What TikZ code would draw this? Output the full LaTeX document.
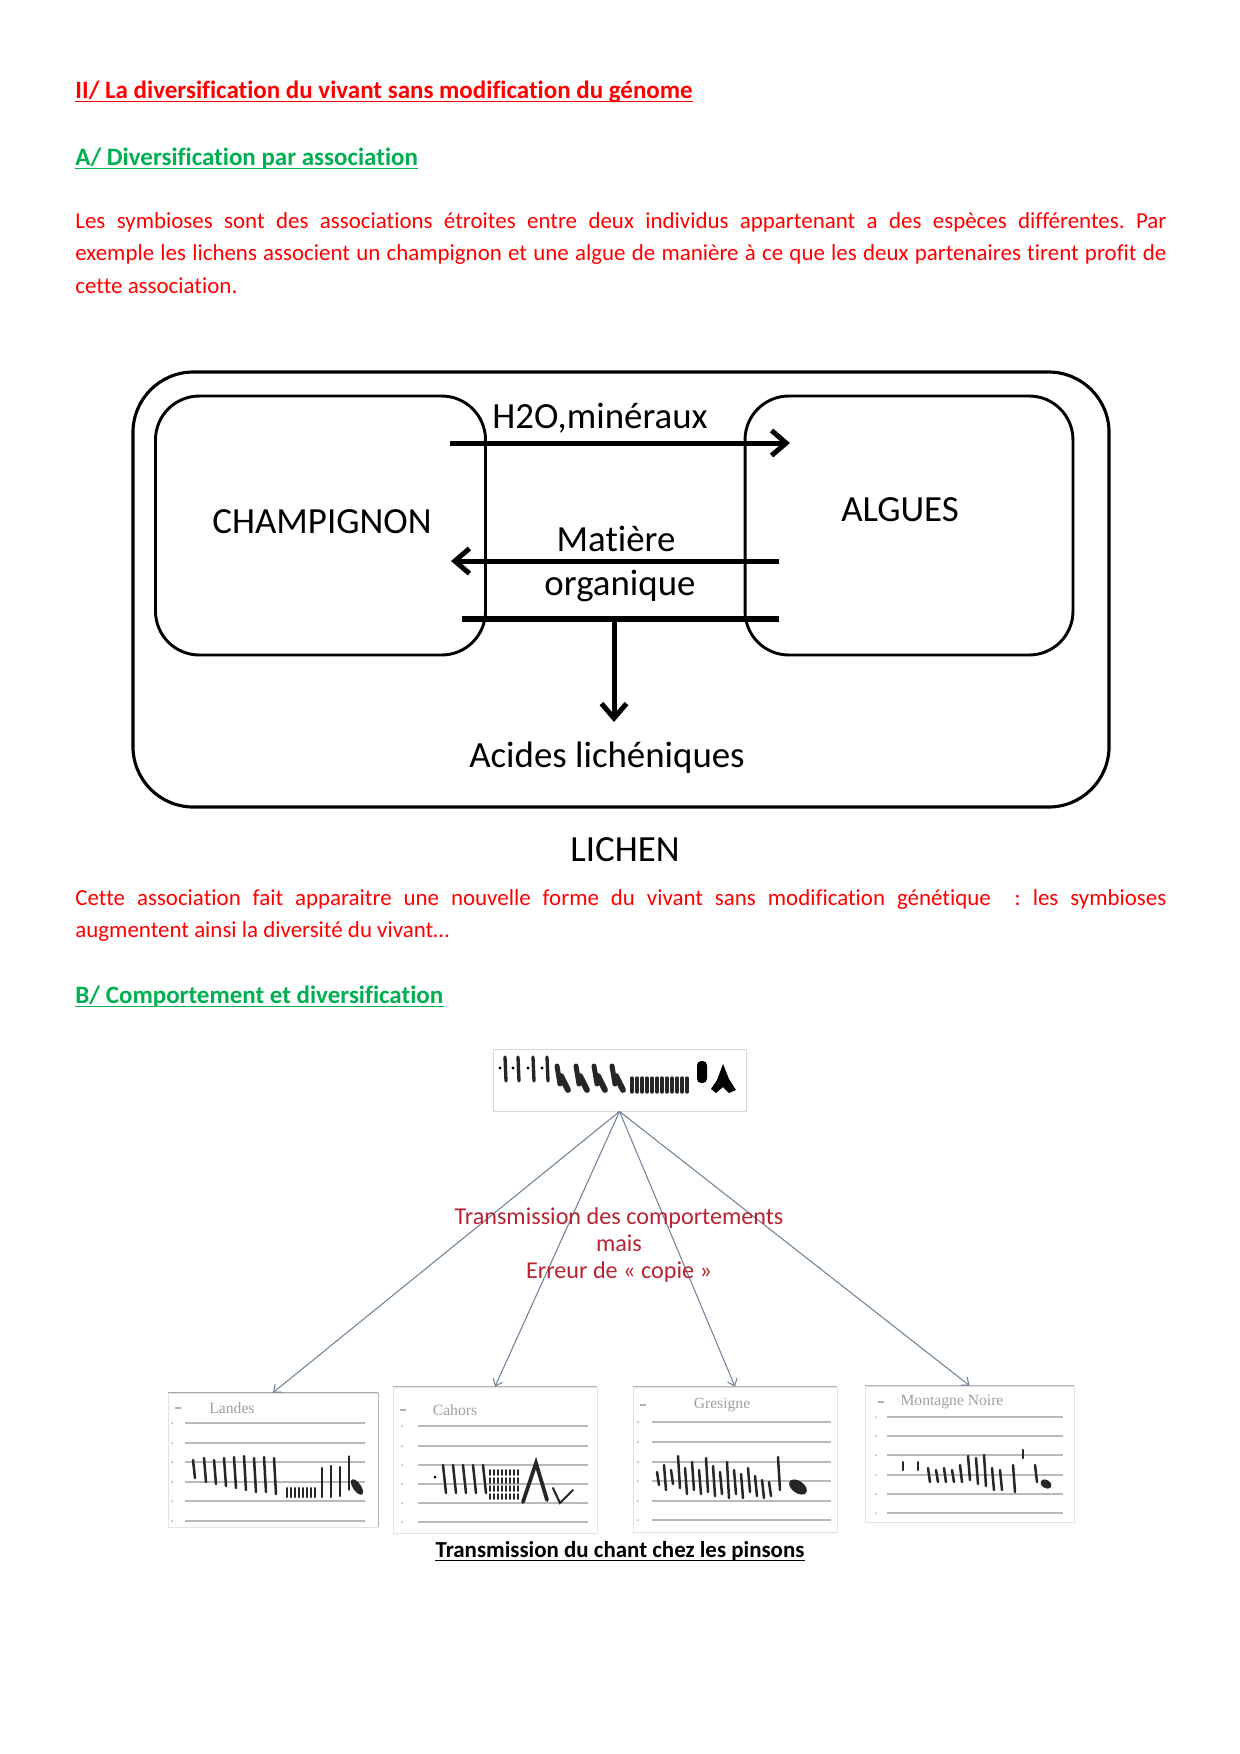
\documentclass[tikz,border=0pt]{standalone}
\usepackage{fontspec}
\setmainfont{Carlito}[Ligatures=NoCommon]
\newfontfamily\tnr{Liberation Serif}
\usetikzlibrary{arrows.meta}
\definecolor{wred}{RGB}{255,0,0}
\definecolor{wgreen}{RGB}{0,176,80}
\definecolor{dred}{RGB}{185,35,50}
\definecolor{connc}{RGB}{110,130,155}
\frenchspacing
\begin{document}
\begin{tikzpicture}[x=0.48pt,y=-0.48pt,
  body/.style={anchor=base west,inner sep=0,text=wred,font=\fontsize{11}{13}\selectfont},
  head/.style={anchor=base west,inner sep=0,font=\bfseries\fontsize{12}{14}\selectfont},
  uline/.style={line width=0.75pt},
  box/.style={draw,line width=1.4pt,rounded corners=21pt,inner sep=0},
  outerbox/.style={draw,line width=1.5pt,rounded corners=29pt,inner sep=0},
  lbl/.style={anchor=base,inner sep=0,font=\fontsize{17.7}{20}\selectfont},
  flow/.style={line width=2.4pt,-{Straight Barb[length=7pt,width=12pt]}},
  barline/.style={line width=2.6pt},
  conn/.style={draw=connc,line width=0.5pt,-{Straight Barb[length=3pt,width=5pt]}},
  panel/.style={draw=gray!22,line width=0.4pt,inner sep=0},
  gridl/.style={gray!55,line width=0.9pt},
  song/.style={black!85,line width=1.2pt,line cap=round},
  sono/.style={inner sep=0,text=gray!75,font=\tnr\fontsize{7.5}{9}\selectfont},
  songtxt/.style={anchor=base,inner sep=0,text=dred,font=\fontsize{11.6}{13}\selectfont}]
\useasboundingbox (0,0) rectangle (1240,1754);
\fill[white] (0,0) rectangle (1240,1754);

% ---------- headings and text ----------
\node[head,text=wred] (t1) at (75,98) {II/ La diversification du vivant sans modification du génome};
\draw[uline,wred] ([yshift=-1.7pt]t1.base west) -- ([yshift=-1.7pt]t1.base east);
\node[head,text=wgreen] (t2) at (75,165) {A/ Diversification par association};
\draw[uline,wgreen] ([yshift=-1.7pt]t2.base west) -- ([yshift=-1.7pt]t2.base east);
\node[body] (p1) at (75,228) {\makebox[523.7pt][s]{Les symbioses sont des associations étroites entre deux individus appartenant a des espèces différentes. Par}};
\node[body] (p2) at (75,260) {\makebox[523.7pt][s]{exemple les lichens associent un champignon et une algue de manière à ce que les deux partenaires tirent profit de}};
\node[body] (p3) at (75,293) {cette association.};

% ---------- lichen diagram ----------
\node[outerbox,minimum width=468.5pt,minimum height=208.8pt] (lichen) at (621,589.5) {};
\node[box,minimum width=158.4pt,minimum height=124.3pt] (champ) at (320.5,525.5) {};
\node[box,minimum width=157.4pt,minimum height=124.3pt] (algues) at (909,525.5) {};
\node[lbl] (champt) at (322,533) {CHAMPIGNON};
\node[lbl] (alguest) at (900,521) {ALGUES};
\node[lbl] (h2o) at (600,428) {H2O,minéraux};
\node[lbl] (mat) at (616,551) {Matière};
\node[lbl] (org) at (620,595) {organique};
\node[lbl] (acides) at (607,767) {Acides lichéniques};
\node[lbl] (lichent) at (625,861) {LICHEN};
\coordinate (a1s) at (450,443);
\coordinate (a1e) at (790,443);
\coordinate (a2s) at (779,561);
\coordinate (a2e) at (451,561);
\coordinate (b1) at (462,619);
\coordinate (b2) at (779,619);
\coordinate (bm) at (614,619);
\coordinate (be) at (614,722);
\draw[flow] (a1s) -- (a1e);
\draw[flow] (a2s) -- (a2e);
\draw[barline] (b1) -- (b2);
\draw[flow] (bm) -- (be);

% ---------- second text ----------
\node[body] (p4) at (75,905) {\makebox[523.7pt][s]{Cette association fait apparaitre une nouvelle forme du vivant sans modification génétique \ : les symbioses}};
\node[body] (p5) at (75,937) {augmentent ainsi la diversité du vivant…};
\node[head,text=wgreen] (t3) at (75,1003) {B/ Comportement et diversification};
\draw[uline,wgreen] ([yshift=-1.7pt]t3.base west) -- ([yshift=-1.7pt]t3.base east);

% ---------- song diagram ----------
\node[panel,draw=gray!30,minimum width=121.4pt,minimum height=29.8pt] (img) at (619.5,1080) {};
\foreach \x in {505,518,533,547}{
  \draw[song,line width=1.6pt] (\x,1057) -- (\x+1,1081);
  \fill (\x-5,1068) circle (1.6);
}
\foreach \x in {563,582,600,618}{
  \draw[song,line width=2.4pt] (\x-6,1066) -- (\x-3,1084);
  \draw[song,line width=2.8pt] (\x-2,1076) -- (\x+5,1090);
}
\foreach \x in {632,637,...,690}{
  \draw[song,line width=1.6pt] (\x,1078) -- (\x,1092);
}
\fill[rounded corners=2pt] (697,1061) rectangle (707,1083);
\fill (711,1089) -- (717,1080) -- (723,1064) -- (729,1079) -- (736,1090) -- (729,1093) -- (723,1087) -- (716,1093) -- cycle;

% panels
\node[panel,minimum width=100.8pt,minimum height=64.3pt] (landes) at (273,1460) {};
\node[panel,minimum width=97.9pt,minimum height=70pt] (cahors) at (495,1460) {};
\node[panel,minimum width=97.9pt,minimum height=69.6pt] (gresigne) at (735,1459.5) {};
\node[panel,minimum width=100.3pt,minimum height=65.3pt] (montagne) at (969.5,1454) {};
\draw[gray!70,line width=0.6pt] (landes.north west) -- (landes.north east);
\draw[gray!60,line width=0.6pt] (landes.north east) -- (landes.south east);
\draw[gray!60,line width=0.6pt] (cahors.north west) -- (cahors.north east);
\draw[gray!60,line width=0.6pt] (gresigne.north west) -- (gresigne.north east);
\draw[gray!60,line width=0.6pt] (montagne.north west) -- (montagne.north east);

\node[sono] (landest) at (232,1408) {Landes};
\node[sono] (cahorst) at (455,1410) {Cahors};
\node[sono] (gresignet) at (722,1405) {Gresigne};
\node[sono] (montagnet) at (952,1402) {Montagne Noire};

% grid lines and ticks
\foreach \y in {1423,1443,1462,1482,1501,1521}{\draw[gridl] (185,\y) -- (365,\y); \fill[gray!60] (172,\y) circle (1);}
\foreach \y in {1426,1446,1465,1484,1503,1522}{\draw[gridl] (418,\y) -- (588,\y); \fill[gray!60] (402,\y) circle (1);}
\foreach \y in {1422,1442,1462,1481,1501,1520}{\draw[gridl] (652,\y) -- (831,\y); \fill[gray!60] (638,\y) circle (1);}
\foreach \y in {1417,1436,1455,1475,1494,1513}{\draw[gridl] (887,\y) -- (1063,\y); \fill[gray!60] (876,\y) circle (1);}
\draw[gray!60,line width=0.8pt] (175,1408) -- (181,1408);
\draw[gray!60,line width=0.8pt] (400,1410) -- (406,1410);
\draw[gray!60,line width=0.8pt] (640,1405) -- (646,1405);
\draw[gray!60,line width=0.8pt] (878,1402) -- (884,1402);

% Landes song
\foreach \x/\a/\b in {193/1460/1478,204/1458/1482,214/1460/1484,224/1458/1486,234/1457/1488,244/1456/1490,254/1458/1492,264/1457/1492,274/1458/1494}{
  \draw[song] (\x,\a) -- (\x+2,\b);
}
\foreach \x in {287,291,...,317}{\draw[song,line width=1pt] (\x,1488) -- (\x,1497);}
\foreach \x/\a/\b in {322/1468/1497,331/1466/1497,340/1467/1496}{\draw[song,line width=1.1pt] (\x,\a) -- (\x,\b);}
\draw[song,line width=0.6pt] (349,1456) -- (349,1490);
\fill[black!85,rotate around={35:(357,1487)}] (357,1487) ellipse (4 and 9);

% Cahors song
\fill (435,1477) circle (1.5);
\foreach \x in {443,453,463,473,483}{\draw[song] (\x,1465) -- (\x+3,1493);}
\foreach \x in {490,494,...,518}{\foreach \y in {1470,1478,1486,1494}{\draw[song,line width=0.9pt] (\x,\y) -- (\x,\y+5);}}
\draw[song,line width=1.8pt] (523,1502) -- (536,1463) -- (547,1500);
\draw[song,line width=1pt] (553,1488) -- (560,1503) -- (573,1490);

% Gresigne song
\foreach \x/\a/\b in {657/1472/1485,664/1465/1490,671/1470/1484,678/1456/1488,685/1468/1494,692/1462/1490,699/1470/1494,706/1458/1492,713/1466/1496,720/1472/1494,727/1462/1498,734/1470/1494,741/1474/1498,748/1468/1492,755/1476/1496,762/1480/1498,769/1482/1496,778/1457/1490}{
  \draw[song] (\x,\a) -- (\x+2,\b);
}
\fill[black!85,rotate around={-35:(798,1487)}] (798,1487) ellipse (10 and 6);

% Montagne Noire song
\draw[song,line width=1pt] (903,1462) -- (903,1470);
\draw[song,line width=1pt] (918,1462) -- (918,1470);
\foreach \x/\a/\b in {928/1468/1482,936/1470/1482,944/1468/1482,952/1470/1482,960/1465/1482,968/1456/1480,976/1458/1484,984/1455/1486,992/1468/1490,1000/1470/1490,1013/1465/1492,1035/1465/1482}{
  \draw[song] (\x,\a) -- (\x+2,\b);
}
\draw[song,line width=1.2pt] (1023,1450) -- (1023,1458);
\fill[black!85,rotate around={-30:(1046,1484)}] (1046,1484) ellipse (6 and 4);

% connectors
\draw[conn] (img.south) -- (landes.north);
\draw[conn] (img.south) -- (cahors.north);
\draw[conn] (img.south) -- (gresigne.north);
\draw[conn] (img.south) -- (montagne.north);

\node[songtxt] (s1) at (619,1224) {Transmission des comportements};
\node[songtxt] (s2) at (619,1251) {mais};
\node[songtxt] (s3) at (619,1278) {Erreur de « copie »};

\node[anchor=base,inner sep=0,font=\bfseries\fontsize{11}{13}\selectfont] (cap) at (620,1557) {Transmission du chant chez les pinsons};
\draw[uline,black] ([yshift=-1.6pt]cap.base west) -- ([yshift=-1.6pt]cap.base east);
\end{tikzpicture}
\end{document}
